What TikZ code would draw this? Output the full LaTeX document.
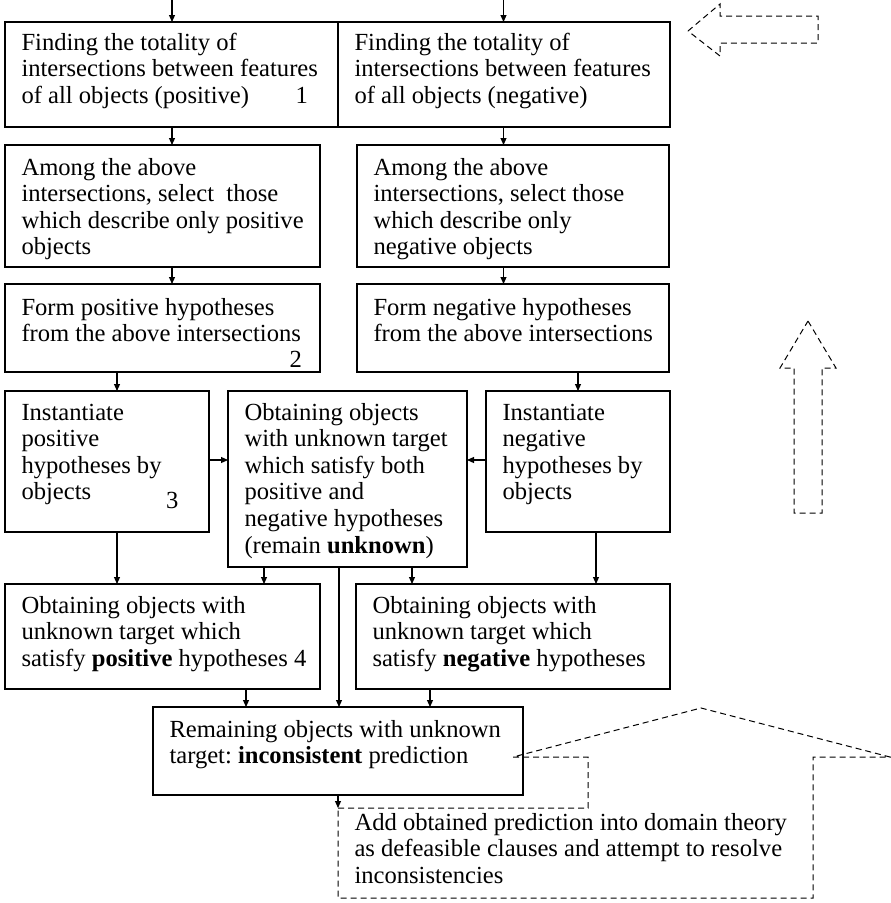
\documentclass[tikz,border=0pt]{standalone}
\usepackage{fontspec}
\setmainfont{Liberation Serif}
\usetikzlibrary{arrows.meta}
\newcommand\mkbox[8][box]{%
 \pgfmathsetlengthmacro\mkbw{#5-#3-33}%
 \pgfmathsetlengthmacro\mkbh{#6-#4}%
 \pgfmathsetlengthmacro\mkbo{#7-18.62}%
 \node[#1] (#2) at (#3,#4) {\parbox[c][\mkbh][t]{\mkbw}{\vspace*{\mkbo}\raggedright\frenchspacing\strut #8}};%
}
\newcommand\lne[1]{\mbox{#1}}
\begin{document}
\begin{tikzpicture}[x=1pt,y=-1pt,
  font=\fontsize{24.6}{26.6}\selectfont,
  box/.style={draw, line width=1.2pt, anchor=north west, inner xsep=16.5pt, inner ysep=0pt, outer sep=0pt},
  plainbox/.style={anchor=north west, inner xsep=16.5pt, inner ysep=0pt, outer sep=0pt},
  num/.style={anchor=base west, inner sep=0pt},
  arr/.style={line width=1.1pt, -{Triangle[length=7pt,width=6pt]}},
  dsh/.style={line width=1pt, dash pattern=on 6pt off 4pt, line join=miter}]
\useasboundingbox (0,0) rectangle (891,903);

\mkbox{A1}{5}{22}{338}{127}{28}{\lne{Finding the totality of}\\ \lne{intersections between features}\\ \lne{of all objects (positive)}}
\mkbox{A2}{338}{22}{670}{127}{28}{\lne{Finding the totality of}\\ \lne{intersections between features}\\ \lne{of all objects (negative)}}
\mkbox{B1}{5}{145}{320}{267}{30}{\lne{Among the above}\\ \lne{intersections, select\ \ those}\\ \lne{which describe only positive}\\ \lne{objects}}
\mkbox{B2}{357}{145}{669}{267}{30}{\lne{Among the above}\\ \lne{intersections, select those}\\ \lne{which describe only}\\ \lne{negative objects}}
\mkbox{C1}{5}{284}{320}{372}{31}{\lne{Form positive hypotheses}\\ \lne{from the above intersections}}
\mkbox{C2}{357}{284}{669}{372}{31}{\lne{Form negative hypotheses}\\ \lne{from the above intersections}}
\mkbox{D1}{5}{391}{209}{532}{29}{\lne{Instantiate}\\ \lne{positive}\\ \lne{hypotheses by}\\ \lne{objects}}
\mkbox{D2}{228}{391}{467}{567}{29}{\lne{Obtaining objects}\\ \lne{with unknown target}\\ \lne{which satisfy both}\\ \lne{positive and}\\ \lne{negative hypotheses}\\ \lne{(remain \textbf{unknown})}}
\mkbox{D3}{486}{391}{670}{532}{29}{\lne{Instantiate}\\ \lne{negative}\\ \lne{hypotheses by}\\ \lne{objects}}
\mkbox{E1}{5}{584}{320}{689}{29}{\lne{Obtaining objects with}\\ \lne{unknown target which}\\ \lne{satisfy \textbf{positive} hypotheses 4}}
\mkbox{E2}{356}{584}{670}{689}{29}{\lne{Obtaining objects with}\\ \lne{unknown target which}\\ \lne{satisfy \textbf{negative} hypotheses}}
\mkbox{F}{153}{707}{523}{795}{30}{\lne{Remaining objects with unknown}\\ \lne{target: \textbf{inconsistent} prediction}}
\mkbox[plainbox]{G}{338}{808}{813}{898}{22}{\lne{Add obtained prediction into domain theory}\\ \lne{as defeasible clauses and attempt to resolve}\\ \lne{inconsistencies}}

\node[num] (n1) at (295.5,103) {1};
\node[num] (n2) at (289.5,367) {2};
\node[num] (n3) at (166,508) {3};

\coordinate (t1) at (172,0);
\coordinate (t2) at (503.5,0);
\coordinate (x117) at (117,0);
\coordinate (x578) at (578,0);
\coordinate (x596) at (596,0);
\coordinate (x264) at (264,0);
\coordinate (x412) at (412,0);
\coordinate (x339) at (339,0);
\coordinate (x246) at (246,0);
\coordinate (x430) at (430,0);
\coordinate (x338) at (338,0);
\coordinate (y460) at (0,460);

\draw[arr] (t1) -- (t1 |- A1.north);
\draw[arr] (t2) -- (t2 |- A2.north);
\draw[arr] (t1 |- A1.south) -- (t1 |- B1.north);
\draw[arr] (t1 |- B1.south) -- (t1 |- C1.north);
\draw[arr] (x117 |- C1.south) -- (x117 |- D1.north);
\draw[arr] (x117 |- D1.south) -- (x117 |- E1.north);
\draw[arr] (t2 |- A2.south) -- (t2 |- B2.north);
\draw[arr] (t2 |- B2.south) -- (t2 |- C2.north);
\draw[arr] (x578 |- C2.south) -- (x578 |- D3.north);
\draw[arr] (x596 |- D3.south) -- (x596 |- E2.north);
\draw[arr] (D1.east |- y460) -- (D2.west |- y460);
\draw[arr] (D3.west |- y460) -- (D2.east |- y460);
\draw[arr] (x264 |- D2.south) -- (x264 |- E1.north);
\draw[arr] (x412 |- D2.south) -- (x412 |- E2.north);
\draw[arr] (x339 |- D2.south) -- (x339 |- F.north);
\draw[arr] (x246 |- E1.south) -- (x246 |- F.north);
\draw[arr] (x430 |- E2.south) -- (x430 |- F.north);
\draw[arr] (x338 |- F.south) -- (x338 |- G.north);

\draw[dsh] (688,31) -- (720,4) -- (720,16) -- (818,16) -- (818,43) -- (720,43) -- (720,56) -- cycle;
\draw[dsh] (808,321) -- (836,368) -- (822,368) -- (822,513) -- (794,513) -- (794,368) -- (780,368) -- cycle;
\draw[dsh] (G.north west) -- (588,808) -- (588,757) -- (513,757) -- (701,708) -- (890,757) -- (813,757) -- (G.south east) -- (G.south west) -- cycle;
\end{tikzpicture}
\end{document}
